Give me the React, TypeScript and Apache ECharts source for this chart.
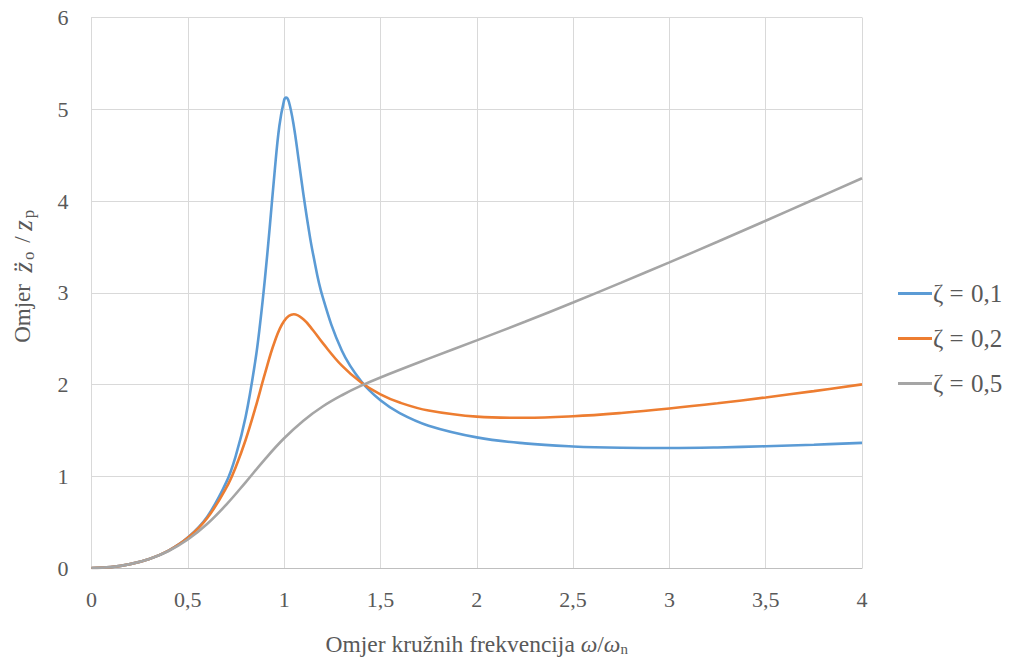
import React, { useEffect, useRef } from "react";
import * as echarts from "echarts";

const xTicks = ["0", "0,5", "1", "1,5", "2", "2,5", "3", "3,5", "4"];
const seriesNames = ["ζ = 0,1", "ζ = 0,2", "ζ = 0,5"];
const seriesColors = ["#5B9BD5", "#ED7D31", "#A5A5A5"];

const x1 = [0, 0.1, 0.2, 0.3, 0.4, 0.5, 0.6, 0.7, 0.75, 0.8, 0.85, 0.875, 0.9, 0.925, 0.95, 0.975, 1, 1.01, 1.025, 1.05, 1.075, 1.1, 1.125, 1.15, 1.2, 1.3, 1.4, 1.5, 1.6, 1.75, 2, 2.25, 2.5, 2.75, 3, 3.25, 3.5, 3.75, 4];
const y1 = [0, 0.010, 0.042, 0.099, 0.190, 0.332, 0.557, 0.936, 1.230, 1.645, 2.252, 2.657, 3.145, 3.708, 4.302, 4.815, 5.099, 5.127, 5.079, 4.821, 4.454, 4.074, 3.727, 3.426, 2.955, 2.368, 2.035, 1.827, 1.688, 1.551, 1.424, 1.358, 1.325, 1.311, 1.308, 1.314, 1.327, 1.344, 1.364];

const x2 = [0, 0.1, 0.2, 0.3, 0.4, 0.5, 0.6, 0.7, 0.75, 0.8, 0.85, 0.9, 0.95, 1, 1.05, 1.1, 1.15, 1.2, 1.3, 1.4, 1.5, 1.6, 1.75, 2, 2.25, 2.5, 2.75, 3, 3.25, 3.5, 3.75, 4];
const y2 = [0, 0.010, 0.042, 0.099, 0.190, 0.329, 0.542, 0.875, 1.107, 1.395, 1.739, 2.115, 2.461, 2.693, 2.766, 2.711, 2.591, 2.453, 2.205, 2.021, 1.892, 1.803, 1.716, 1.650, 1.637, 1.654, 1.690, 1.738, 1.795, 1.859, 1.928, 2.001];

const x3 = [0, 0.1, 0.2, 0.3, 0.4, 0.5, 0.6, 0.7, 0.8, 0.9, 1, 1.1, 1.2, 1.3, 1.4, 1.5, 1.75, 2, 2.25, 2.5, 2.75, 3, 3.25, 3.5, 3.75, 4];
const y3 = [0, 0.010, 0.042, 0.098, 0.185, 0.310, 0.479, 0.691, 0.934, 1.185, 1.414, 1.606, 1.760, 1.883, 1.987, 2.077, 2.282, 2.481, 2.684, 2.894, 3.110, 3.331, 3.556, 3.785, 4.016, 4.248];

const xsList = [x1, x2, x3];
const ysList = [y1, y2, y3];

const FONT = "Liberation Serif";
const TXT = "#595959";

export default function App() {
  const ref = useRef<HTMLDivElement>(null);
  useEffect(() => {
    if (!ref.current) return;
    const chart = echarts.init(ref.current, null, { renderer: "svg" });
    const series = seriesNames.map((name, i) => ({
      name,
      type: "line",
      data: xsList[i].map((x, j) => [x, ysList[i][j]]),
      showSymbol: false,
      smooth: 0.4,
      lineStyle: { color: seriesColors[i], width: 2.6 },
      itemStyle: { color: seriesColors[i] },
      z: 2 + i,
    }));
    const tickRich = { t: { fontFamily: FONT, fontSize: 22, color: TXT, lineHeight: 24 } };
    const legStyle = { fontFamily: FONT, fontSize: 25, color: TXT, lineHeight: 26 };
    chart.setOption({
      animation: false,
      backgroundColor: "#ffffff",
      textStyle: { fontFamily: FONT },
      grid: { left: 90, right: 155, top: 17.5, bottom: 95, containLabel: false },
      legend: {
        orient: "vertical",
        left: 893,
        top: 276,
        icon: "rect",
        itemWidth: 34,
        itemHeight: 3,
        itemGap: 20,
        data: seriesNames,
        formatter: (n: string) => {
          const [a, b] = n.split(" = ");
          return `{t|${a}}{e| = }{t|${b}}`;
        },
        textStyle: {
          fontFamily: FONT,
          color: TXT,
          padding: [0, 0, 0, -4],
          rich: { t: legStyle, e: { ...legStyle, padding: [0, 1, 0, 0] } },
        },
      },
      xAxis: {
        type: "value",
        min: 0,
        max: 4,
        interval: 0.5,
        axisLine: { show: true, lineStyle: { color: "#BFBFBF", width: 1 } },
        axisTick: { show: false },
        splitLine: { show: true, lineStyle: { color: "#D9D9D9", width: 1 } },
        axisLabel: {
          margin: 19,
          formatter: (v: number) => `{t|${xTicks[Math.round(v / 0.5)] ?? ""}}`,
          rich: tickRich,
        },
        name: "{a|Omjer kružnih frekvencija }{w|ω}{a|/}{w|ω}{s|n}",
        nameLocation: "middle",
        nameGap: 62,
        nameTextStyle: {
          rich: {
            a: { fontFamily: FONT, fontSize: 23.5, color: TXT, lineHeight: 28 },
            w: { fontFamily: FONT, fontSize: 23.5, color: TXT, fontStyle: "italic", lineHeight: 28 },
            s: { fontFamily: FONT, fontSize: 15, color: TXT, lineHeight: 18, padding: [10, 0, 0, 0] },
          },
        },
      },
      yAxis: {
        type: "value",
        min: 0,
        max: 6,
        interval: 1,
        axisLine: { show: true, lineStyle: { color: "#D9D9D9", width: 1 } },
        axisTick: { show: false },
        splitLine: { show: true, lineStyle: { color: "#D9D9D9", width: 1 } },
        axisLabel: {
          margin: 23,
          formatter: (v: number) => `{t|${v}}`,
          rich: tickRich,
        },
        name: "{a|Omjer  }{z|z̈}{s|o}{a| / }{z|z}{s|p}",
        nameLocation: "middle",
        nameGap: 54,
        nameRotate: 90,
        nameTextStyle: {
          padding: [0, 0, 0, 36],
          rich: {
            a: { fontFamily: FONT, fontSize: 23, color: TXT, lineHeight: 30 },
            z: { fontFamily: FONT, fontSize: 27, color: TXT, fontStyle: "italic", lineHeight: 30 },
            s: { fontFamily: FONT, fontSize: 17, color: TXT, lineHeight: 18, padding: [12, 3, 0, 2] },
          },
        },
      },
      series,
    });
    return () => chart.dispose();
  }, []);
  return (
    <div
      ref={ref}
      style={{ position: "fixed", left: 0, top: 0, width: 1017, height: 663, background: "#fff" }}
    />
  );
}
